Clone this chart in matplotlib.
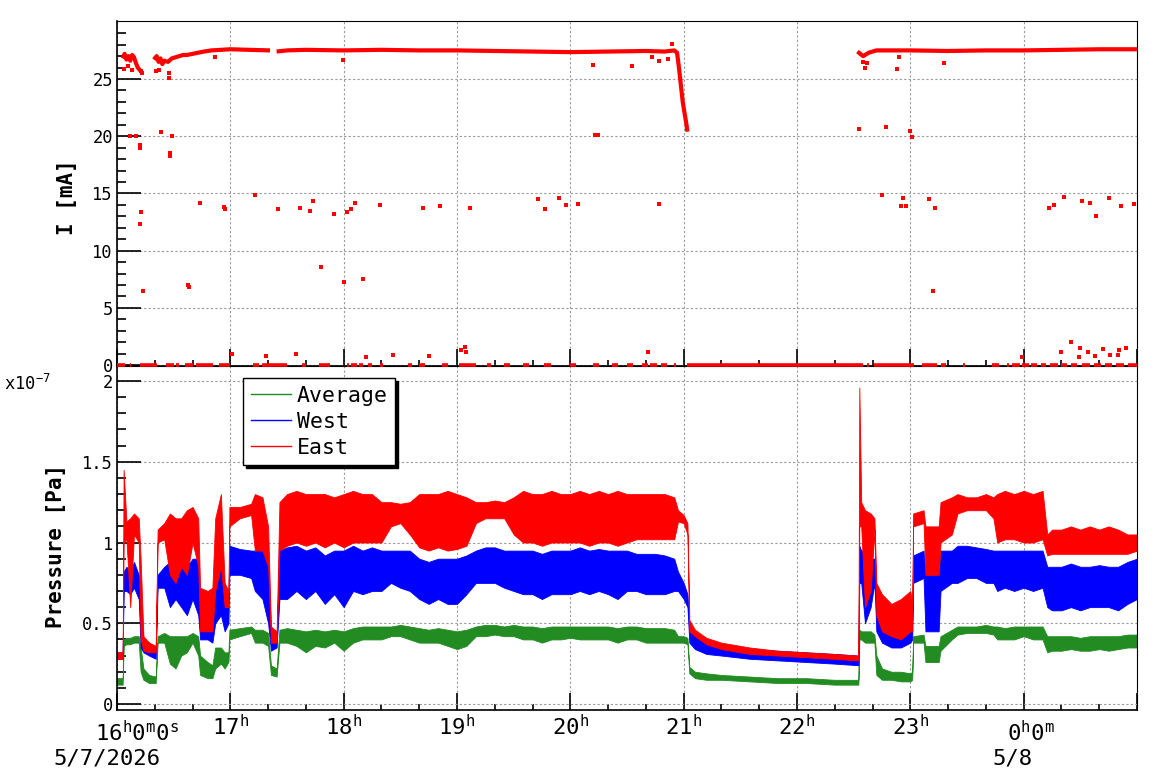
import numpy as np
import matplotlib.pyplot as plt
from matplotlib.ticker import FixedLocator, MultipleLocator, FuncFormatter
from matplotlib.lines import Line2D

plt.rcParams['font.family'] = ['DejaVu Sans Mono', 'DejaVu Sans']
plt.rcParams['mathtext.default'] = 'regular'

# time axis: minutes after 16:00 on 5/7/2026
t_p = [0, 3, 3.5, 5, 7, 9, 11.5, 12.5, 14, 17,
       20.5, 21.5, 25, 28, 31, 34, 37, 40, 43, 44,
       48, 50.5, 52, 55, 57, 59, 59.5, 65, 71, 73,
       77, 80, 81.5, 84.5, 86, 90, 95, 100, 105, 110,
       115, 120, 125, 130, 135, 140, 145, 150, 155, 160,
       165, 170, 175, 180, 185, 190, 195, 200, 205, 210,
       215, 220, 225, 230, 235, 240, 245, 250, 255, 260,
       265, 270, 275, 280, 285, 290, 295, 297, 300, 302,
       303, 306, 312, 320, 335, 350, 365, 380, 392.5, 393,
       394, 396, 399, 401, 402, 405, 410, 415, 420, 421,
       421.5, 427, 428, 435, 436, 442, 445, 450, 455, 460,
       464, 466, 470, 475, 480, 485, 490, 492.5, 495, 500,
       505, 510, 515, 520, 525, 530, 535, 540]

# pressure envelopes, units of 1e-7 Pa
east_lo = [.28, .28, 1.0, 1.02, .60, 1.05, 1.0, .40, .33, .32,
           .32, 1.0, 1.02, .80, .75, .85, .80, 1.0, .85, .45,
           .45, .45, .70, .85, .60, .60, 1.10, 1.15, 1.17, .95,
           .95, .85, .38, .38, .95, .98, 1.0, .98, 1.0, .97,
           1.0, .97, 1.0, 1.0, 1.0, 1.0, 1.10, 1.12, 1.05, .97,
           .95, .97, .95, .96, .98, 1.12, 1.15, 1.15, 1.15, 1.05,
           1.0, 1.0, .98, 1.0, 1.0, 1.0, 1.0, .98, 1.0, 1.0,
           .98, 1.0, 1.02, 1.02, 1.02, 1.02, 1.02, 1.13, 1.12, 1.05,
           .45, .42, .37, .34, .31, .30, .29, .28, .27, 1.10,
           1.10, .60, .70, 1.08, .55, .45, .42, .40, .45, .45,
           1.10, 1.12, .80, .80, 1.00, 1.05, 1.18, 1.20, 1.20, 1.20,
           1.15, 1.0, 1.02, 1.02, 1.0, 1.0, 1.02, .92, .93, .93,
           .93, .93, .93, .93, .93, .93, .93, .95]
east_hi = [.32, .32, 1.45, 1.13, 1.15, 1.18, 1.15, .90, .42, .38,
           .36, 1.08, 1.12, 1.18, 1.15, 1.15, 1.20, 1.22, 1.15, .72,
           .70, .72, 1.15, 1.30, .75, .70, 1.22, 1.22, 1.24, 1.30,
           1.28, 1.10, .48, .45, 1.25, 1.30, 1.32, 1.30, 1.30, 1.30,
           1.28, 1.30, 1.32, 1.30, 1.30, 1.25, 1.25, 1.24, 1.25, 1.30,
           1.30, 1.30, 1.32, 1.30, 1.28, 1.25, 1.25, 1.26, 1.25, 1.28,
           1.32, 1.30, 1.30, 1.32, 1.30, 1.30, 1.32, 1.30, 1.32, 1.30,
           1.32, 1.30, 1.30, 1.30, 1.30, 1.30, 1.28, 1.20, 1.17, 1.12,
           .52, .46, .41, .38, .35, .33, .32, .31, .30, 1.96,
           1.25, 1.20, 1.18, 1.15, .75, .68, .62, .65, .70, .62,
           1.18, 1.20, 1.10, 1.10, 1.25, 1.28, 1.30, 1.28, 1.28, 1.30,
           1.28, 1.30, 1.32, 1.30, 1.32, 1.30, 1.32, 1.05, 1.08, 1.08,
           1.10, 1.08, 1.10, 1.08, 1.10, 1.08, 1.05, 1.05]
west_lo = [.28, .28, .70, .70, .68, .72, .65, .35, .32, .30,
           .28, .72, .72, .60, .65, .60, .55, .65, .55, .40,
           .40, .38, .50, .55, .45, .50, .80, .80, .78, .70,
           .65, .50, .33, .35, .65, .65, .70, .65, .70, .62,
           .68, .60, .70, .68, .70, .70, .75, .72, .70, .65,
           .62, .65, .62, .62, .68, .75, .75, .75, .72, .70,
           .68, .68, .65, .68, .68, .68, .70, .68, .70, .68,
           .65, .70, .70, .68, .68, .68, .70, .70, .65, .60,
           .38, .34, .31, .30, .28, .27, .26, .25, .24, .75,
           .75, .50, .60, .75, .45, .38, .35, .35, .38, .40,
           .75, .78, .45, .45, .70, .75, .75, .78, .78, .75,
           .75, .70, .72, .70, .72, .70, .72, .60, .58, .58,
           .60, .58, .60, .60, .60, .58, .62, .65]
west_hi = [.32, .32, .82, .85, .82, .88, .80, .60, .40, .38,
           .35, .80, .85, .88, .90, .85, .85, .90, .90, .60,
           .58, .55, .90, .95, .70, .65, .98, .96, .95, .95,
           .95, .90, .45, .42, .95, .97, .98, .95, .97, .92,
           .95, .95, .98, .95, .97, .95, .95, .95, .95, .90,
           .88, .90, .90, .90, .92, .95, .97, .97, .95, .95,
           .95, .95, .93, .95, .95, .95, .97, .95, .96, .95,
           .95, .95, .93, .93, .93, .92, .90, .82, .75, .68,
           .48, .42, .38, .36, .34, .33, .32, .31, .30, .98,
           .95, .95, .90, .90, .65, .60, .58, .58, .55, .52,
           .92, .95, .80, .80, .95, .95, .98, .98, .97, .96,
           .95, .95, .95, .95, .95, .95, .95, .85, .85, .85,
           .87, .85, .85, .86, .85, .85, .88, .90]
avg_lo = [.12, .12, .36, .37, .37, .38, .38, .20, .15, .13,
          .13, .38, .38, .25, .22, .30, .32, .38, .30, .18,
          .16, .16, .22, .25, .22, .26, .40, .42, .44, .38,
          .38, .36, .18, .17, .38, .38, .36, .32, .36, .35,
          .38, .33, .38, .40, .40, .40, .42, .42, .40, .38,
          .38, .38, .36, .34, .36, .42, .42, .43, .42, .42,
          .40, .40, .38, .40, .40, .41, .40, .40, .40, .40,
          .38, .40, .40, .38, .38, .38, .38, .38, .38, .37,
          .19, .16, .15, .15, .14, .13, .13, .12, .12, .40,
          .40, .38, .38, .38, .18, .15, .15, .14, .14, .15,
          .38, .38, .26, .26, .33, .40, .43, .44, .44, .44,
          .43, .40, .40, .40, .42, .40, .40, .32, .33, .33,
          .34, .33, .33, .34, .33, .34, .35, .35]
avg_hi = [.16, .16, .40, .41, .41, .42, .42, .35, .22, .18,
          .17, .42, .44, .42, .42, .42, .42, .44, .42, .30,
          .26, .24, .35, .35, .32, .32, .46, .47, .48, .46,
          .46, .44, .24, .22, .46, .47, .46, .45, .46, .45,
          .46, .45, .47, .48, .48, .48, .48, .49, .48, .47,
          .46, .47, .46, .45, .46, .48, .49, .49, .48, .49,
          .48, .48, .47, .48, .48, .48, .48, .48, .48, .48,
          .47, .48, .48, .47, .47, .47, .46, .42, .42, .41,
          .23, .20, .19, .18, .17, .16, .16, .15, .15, .46,
          .45, .45, .45, .43, .30, .22, .20, .20, .19, .20,
          .42, .43, .36, .36, .42, .46, .48, .48, .48, .49,
          .48, .48, .47, .48, .48, .48, .48, .42, .42, .42,
          .42, .41, .42, .42, .42, .42, .43, .43]

# beam current, main band (nan = no beam)
nan = np.nan
band_t = [3, 4, 5, 6, 7, 8, 9, 10, 11, 12, 13, nan,
          19.5, 21, 22, 23, 24, 25, 27, 29, 31, 33, 35, 37, 40, 43, 46, 50,
          55, 60, 70, 81, nan,
          84.5, 90, 100, 120, 140, 160, 180, 200, 220, 240, 260, 280, 290,
          295, 296.5, 297.5, 298.5, 299.5, 300.5, 301.5, 302, nan,
          392, 395, 398, 402, 410, 420, 440, 460, 480, 500, 520, 540]
band_v = [26.8, 27.2, 26.7, 27.0, 26.6, 27.1, 26.9, 26.4, 26.0, 25.8, 25.6, nan,
          26.7, 27.0, 26.5, 26.8, 26.3, 26.6, 26.5, 26.8, 26.9, 27.0, 27.1, 27.1,
          27.2, 27.3, 27.4, 27.5, 27.55, 27.6, 27.55, 27.5, nan,
          27.4, 27.5, 27.55, 27.5, 27.55, 27.5, 27.5, 27.45, 27.4, 27.35, 27.4,
          27.45, 27.4, 27.5, 27.3, 26.0, 24.5, 23.0, 22.0, 21.0, 20.4, nan,
          27.4, 27.0, 27.3, 27.5, 27.5, 27.5, 27.45, 27.5, 27.5, 27.55, 27.6, 27.6]

# isolated readings
out_t = [3.7, 6, 7, 7.8, 10, 12, 12.3, 12.2, 12.5, 12.7, 13.1, 13.8, 20.5, 22,
         23.3, 27.3, 27.6, 28, 28.2, 29, 37.6, 38, 44, 52, 56.6, 57, 61, 73, 79,
         85, 95, 96.8, 102, 104, 108, 114.8, 119.6, 120, 122, 124, 126, 130, 132,
         139, 146, 162, 165, 171, 182, 184, 185, 187, 223, 226.5, 234, 237.6, 244,
         252, 253, 254.5, 272.5, 281, 283.4, 286.8, 287, 291.5, 293.6, 393, 394.7,
         396, 397, 405, 407, 413, 414, 415, 416, 417.5, 419.6, 421, 430, 432, 433,
         438, 479, 493.6, 496, 500, 501.6, 505, 509.5, 510, 511, 514, 515, 518,
         518.5, 522, 525, 525.5, 530, 530.7, 531.7, 534, 538.6]
out_v = [25.9, 26.1, 20.0, 25.8, 20.0, 19.2, 19.0, 12.3, 25.7, 13.4, 25.5, 6.5, 25.7, 25.8,
         20.4, 25.5, 25.1, 18.5, 18.3, 20.0, 7.0, 6.8, 14.2, 26.9, 13.8, 13.6, 1.0, 14.9, 0.8,
         13.6, 1.0, 13.7, 13.5, 14.3, 8.6, 13.2, 26.7, 7.3, 13.4, 13.6, 14.2, 7.5, 0.7,
         14.0, 0.9, 13.7, 0.8, 13.9, 1.3, 1.6, 1.1, 13.7, 14.5, 13.6, 14.6, 14.0, 14.1,
         26.2, 20.1, 20.1, 26.1, 1.1, 26.9, 26.6, 14.1, 26.75, 28.1, 20.6, 26.5,
         26.0, 26.4, 14.9, 20.8, 25.9, 26.9, 13.9, 14.6, 13.9, 20.5, 19.9, 14.5, 6.5, 13.7,
         26.4, 0.7, 13.7, 14.0, 1.1, 14.7, 2.0, 0.7, 1.5, 14.3, 1.1, 14.2, 0.8,
         13.0, 1.4, 14.6, 0.9, 0.9, 1.3, 13.9, 1.5, 14.1]

# periods with zero current (start, end minutes)
zero_start = [0, 7, 12, 26, 31, 36, 42, 54, 72, 77, 98, 107, 122, 124, 128, 133, 139,
              154, 160, 172, 181, 196, 205, 215, 226, 240, 252, 262, 270, 278, 282,
              288, 295, 302, 397, 401, 426, 436, 448, 463, 471, 474, 479, 484, 489,
              494, 500, 505, 511, 517, 523, 529, 535]
zero_end = [4, 7.5, 21, 30, 33, 40, 51, 60, 75, 90, 100, 113, 123, 127, 130, 135, 141,
            156, 163, 175, 190, 198, 208, 218, 230, 243, 255, 265, 273, 281, 286,
            291, 296, 395, 398, 422, 434, 439, 449, 467, 472, 478, 483, 487, 492,
            498, 503, 508, 515, 521, 527, 533, 540]

hour_ticks = list(range(0, 541, 60))
hour_labels = ['', '17$^{h}$', '18$^{h}$', '19$^{h}$', '20$^{h}$', '21$^{h}$',
               '22$^{h}$', '23$^{h}$', '', '']

W, H = 1158, 782
fig = plt.figure(figsize=(W / 100, H / 100), dpi=100)


def box(l, t, r, b):
    return [l / W, 1 - b / H, (r - l) / W, (b - t) / H]


ax2 = fig.add_axes(box(117, 366, 1137, 710))
ax1 = fig.add_axes(box(117, 21, 1137, 366), sharex=ax2)
ax1.patch.set_visible(False)
ax2.patch.set_visible(False)

for ax in (ax1, ax2):
    ax.tick_params(which='both', direction='in', top=False, right=False,
                   width=1.2, color='black')
    ax.tick_params(axis='y', which='major', length=17, labelsize=12.3, pad=3)
    ax.tick_params(axis='y', which='minor', length=6.5)
    ax.tick_params(axis='x', which='major', length=12, labelsize=16, pad=3)
    ax.tick_params(axis='x', which='minor', length=4.3)
    for s in ['left', 'bottom']:
        ax.spines[s].set_linewidth(1.2)
    for s in ['top', 'right']:
        ax.spines[s].set_linewidth(0.8)
    ax.grid(True, which='major', color='#999999', linestyle=(0, (2, 2)), linewidth=0.8)
    ax.set_axisbelow(True)

ax2.set_xlim(0, 540)
ax2.xaxis.set_minor_locator(MultipleLocator(20))
ax1.tick_params(labelbottom=False)

# --- current ---
ax1.plot(band_t, band_v, color='red', lw=3, solid_capstyle='butt', zorder=3)
ax1.plot(out_t, out_v, 's', ms=2.4, color='red', mew=0, zorder=3)
ax1.hlines([0] * len(zero_start), zero_start, zero_end, color='red', lw=2.6,
           clip_on=False, zorder=5)
ax1.set_ylim(-0.08, 30.07)
ax1.yaxis.set_major_locator(FixedLocator([0, 5, 10, 15, 20, 25]))
ax1.yaxis.set_minor_locator(FixedLocator(list(range(0, 30))))
ax1.set_ylabel('I [mA]', fontsize=15, fontweight='bold')
ax1.yaxis.set_label_coords(-0.039, 0.49)

# --- pressure ---
ax2.fill_between(t_p, avg_lo, avg_hi, color='#228B22', lw=0.6, zorder=2)
ax2.fill_between(t_p, west_lo, west_hi, color='blue', lw=0.6, zorder=2)
ax2.fill_between(t_p, east_lo, east_hi, color='red', lw=0.6, zorder=2)
ax2.set_ylim(-0.037, 2.093)
ax2.yaxis.set_major_locator(MultipleLocator(0.5))
ax2.yaxis.set_minor_locator(MultipleLocator(0.1))
ax2.yaxis.set_major_formatter(FuncFormatter(lambda v, p: '%g' % v))
ax2.set_ylabel('Pressure [Pa]', fontsize=15, fontweight='bold')
ax2.yaxis.set_label_coords(-0.05, 0.477)
ax2.set_xticks(hour_ticks)
ax2.set_xticklabels(hour_labels)

fig.text(4 / W, 1 - 390 / H, 'x10$^{-7}$', fontsize=12.3, ha='left', va='baseline')

# special time labels and dates
px = 1 / 1.389
ax2.annotate('16$^{h}$0$^{m}$0$^{s}$', xy=(0, 0), xycoords=('data', 'axes fraction'),
             xytext=(20 * px, -23 * px), textcoords='offset points',
             ha='center', va='center', fontsize=16)
ax2.annotate('0$^{h}$0$^{m}$', xy=(480, 0), xycoords=('data', 'axes fraction'),
             xytext=(7 * px, -23 * px), textcoords='offset points',
             ha='center', va='center', fontsize=16)
ax2.annotate('5/7/2026', xy=(0, 0), xycoords=('data', 'axes fraction'),
             xytext=(-10 * px, -49 * px), textcoords='offset points',
             ha='center', va='center', fontsize=16)
ax2.annotate('5/8', xy=(480, 0), xycoords=('data', 'axes fraction'),
             xytext=(-11 * px, -49 * px), textcoords='offset points',
             ha='center', va='center', fontsize=16)

# legend with line samples
handles = [Line2D([], [], color='#228B22', lw=1),
           Line2D([], [], color='blue', lw=1),
           Line2D([], [], color='red', lw=1)]
leg = fig.legend(handles, ['Average', 'West', 'East'], loc='upper left',
                 bbox_to_anchor=(243 / W, 1 - 378 / H), borderaxespad=0,
                 fontsize=15.5, handlelength=1.9, handletextpad=0.25,
                 labelspacing=0.28, borderpad=0.35, fancybox=False,
                 edgecolor='black', framealpha=1,
                 shadow={'color': 'black', 'alpha': 1})
leg.get_frame().set_linewidth(1.0)

fig.savefig('out.png', dpi=100)
